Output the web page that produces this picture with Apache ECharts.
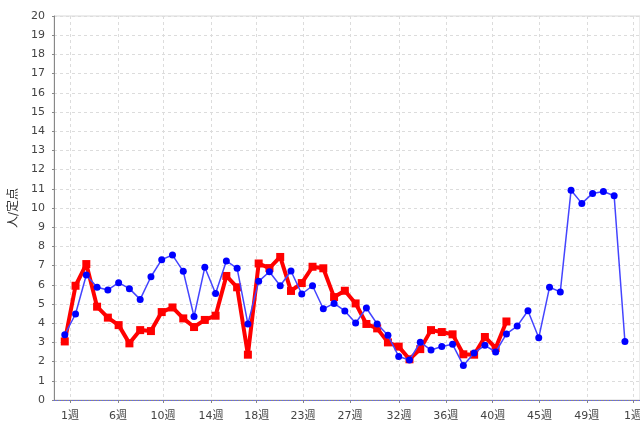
<!DOCTYPE html>
<html>
<head>
<meta charset="utf-8">
<script src="https://cdn.jsdelivr.net/npm/echarts@6/dist/echarts.min.js"></script>
<style>
  html, body { margin: 0; padding: 0; background: #fff; }
  #main { width: 640px; height: 425px; }
</style>
</head>
<body>
<div id="main"></div>
<script>
// weeks 1..53 (blue) and 1..42 (red), 人/定点
const weeks = Array.from({ length: 53 }, (_, i) => i + 1);
const blueValues = [3.40, 4.48, 6.51, 5.87, 5.73, 6.11, 5.80, 5.24, 6.42, 7.31,
  7.55, 6.70, 4.35, 6.91, 5.55, 7.24, 6.86, 3.96, 6.18, 6.68,
  5.95, 6.72, 5.52, 5.95, 4.75, 5.03, 4.64, 4.01, 4.79, 3.96,
  3.37, 2.27, 2.08, 3.01, 2.60, 2.79, 2.90, 1.80, 2.45, 2.85,
  2.50, 3.44, 3.85, 4.65, 3.24, 5.87, 5.63, 10.92, 10.24, 10.76,
  10.86, 10.64, 3.05];
const redValues = [3.05, 5.95, 7.08, 4.86, 4.29, 3.90, 2.95, 3.64, 3.59, 4.58,
  4.82, 4.25, 3.80, 4.17, 4.39, 6.46, 5.87, 2.36, 7.11, 6.87,
  7.45, 5.68, 6.09, 6.94, 6.86, 5.36, 5.69, 5.03, 3.96, 3.73,
  3.00, 2.78, 2.12, 2.65, 3.64, 3.54, 3.42, 2.38, 2.36, 3.28,
  2.71, 4.09];
// date-axis ticks (one per month), in week units, and their labels
const tickWeeks = [1.49, 5.94, 10.12, 14.58, 18.82, 23.12, 27.48, 32.03, 36.37, 40.73, 45.06, 49.46, 53.76];
const tickLabels = ['1週', '6週', '10週', '14週', '18週', '23週', '27週', '32週', '36週', '40週', '45週', '49週', '1週'];

const font = '"DejaVu Sans", "Noto Sans CJK JP", sans-serif';
const chart = echarts.init(document.getElementById('main'));

chart.setOption({
  backgroundColor: '#fff',
  animation: false,
  grid: {
    left: 54, right: 0, top: 16, bottom: 25,
    outerBoundsMode: 'none',
    containLabel: false,
    show: true, borderColor: '#d8d8d8', borderWidth: 1
  },
  xAxis: {
    type: 'value',
    min: 0,
    max: 54.4,
    offset: 5,
    axisLine: { show: true, lineStyle: { color: '#888', width: 1 } },
    axisTick: { show: true, length: 3, customValues: tickWeeks, lineStyle: { color: '#888' } },
    axisLabel: {
      customValues: tickWeeks,
      color: '#444', fontSize: 11, fontFamily: font, margin: 6,
      formatter: (v) => {
        const i = tickWeeks.findIndex(t => Math.abs(t - v) < 1e-6);
        return i >= 0 ? tickLabels[i] : '';
      }
    },
    splitLine: { show: true, lineStyle: { color: '#dcdcdc', type: [3, 3], width: 1 } }
  },
  yAxis: {
    type: 'value',
    min: 0, max: 20, interval: 1,
    offset: 4,
    name: '人/定点',
    nameLocation: 'middle',
    nameGap: 24,
    nameTextStyle: { color: '#333', fontSize: 12, fontFamily: font },
    axisLine: { show: true, lineStyle: { color: '#888', width: 1 } },
    axisTick: { show: true, length: 2, lineStyle: { color: '#888' } },
    axisLabel: { color: '#444', fontSize: 11, fontFamily: font, margin: 5 },
    splitLine: { show: true, lineStyle: { color: '#dcdcdc', type: [3, 3], width: 1 } }
  },
  series: [
    {
      name: 'red',
      type: 'line',
      data: redValues.map((v, i) => [weeks[i], v]),
      symbol: 'rect',
      symbolSize: 8,
      lineStyle: { color: '#ff0000', width: 4 },
      itemStyle: { color: '#ff0000' },
      z: 2
    },
    {
      name: 'blue',
      type: 'line',
      data: blueValues.map((v, i) => [weeks[i], v]),
      symbol: 'circle',
      symbolSize: 7,
      lineStyle: { color: '#4444ff', width: 1.5 },
      itemStyle: { color: '#0000ff' },
      z: 3,
      markLine: {
        silent: true,
        symbol: 'none',
        label: { show: false },
        lineStyle: { color: '#6060ff', type: [1, 2], width: 1 },
        data: [{ yAxis: 0 }]
      }
    }
  ]
});
</script>
</body>
</html>
